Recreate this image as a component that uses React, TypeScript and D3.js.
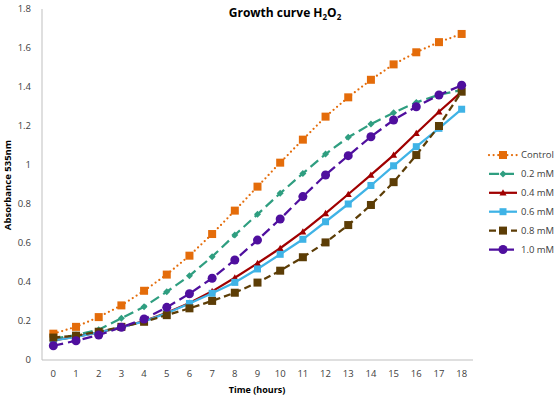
import React from "react";
import * as d3 from "d3";

const hours = [0, 1, 2, 3, 4, 5, 6, 7, 8, 9, 10, 11, 12, 13, 14, 15, 16, 17, 18];

const control = [0.135, 0.17, 0.22, 0.28, 0.355, 0.438, 0.535, 0.646, 0.766, 0.889, 1.012, 1.13, 1.248, 1.347, 1.437, 1.516, 1.578, 1.63, 1.672];
const mM02 = [0.11, 0.128, 0.155, 0.214, 0.273, 0.35, 0.432, 0.53, 0.641, 0.747, 0.855, 0.957, 1.056, 1.142, 1.21, 1.268, 1.321, 1.36, 1.385];
const mM04 = [0.1, 0.12, 0.142, 0.167, 0.2, 0.242, 0.292, 0.352, 0.422, 0.496, 0.573, 0.658, 0.752, 0.85, 0.949, 1.051, 1.163, 1.273, 1.376];
const mM06 = [0.1, 0.118, 0.142, 0.168, 0.198, 0.24, 0.29, 0.342, 0.398, 0.467, 0.542, 0.619, 0.709, 0.8, 0.895, 0.996, 1.094, 1.188, 1.286];
const mM08 = [0.115, 0.125, 0.145, 0.17, 0.196, 0.23, 0.265, 0.303, 0.345, 0.397, 0.458, 0.527, 0.603, 0.692, 0.795, 0.912, 1.051, 1.2, 1.376];
const mM10 = [0.073, 0.099, 0.128, 0.168, 0.21, 0.27, 0.34, 0.419, 0.513, 0.615, 0.723, 0.838, 0.949, 1.048, 1.145, 1.231, 1.299, 1.359, 1.409];

const yTicks = [0, 0.2, 0.4, 0.6, 0.8, 1, 1.2, 1.4, 1.6, 1.8];

type Series = {
  name: string;
  values: number[];
  color: string;
  dash: string;
  cap: "round" | "butt";
  marker: "square" | "diamond" | "triangle" | "circle";
  size: number;
};

const series: Series[] = [
  { name: "Control", values: control, color: "#e46c0a", dash: "0 4.6", cap: "round", marker: "square", size: 8 },
  { name: "0.2 mM", values: mM02, color: "#2f9e80", dash: "10 5", cap: "butt", marker: "diamond", size: 7 },
  { name: "0.4 mM", values: mM04, color: "#a00000", dash: "", cap: "butt", marker: "triangle", size: 7 },
  { name: "0.6 mM", values: mM06, color: "#3fb3e6", dash: "", cap: "butt", marker: "square", size: 7 },
  { name: "0.8 mM", values: mM08, color: "#5c3d06", dash: "7 4", cap: "butt", marker: "square", size: 8 },
  { name: "1.0 mM", values: mM10, color: "#4f0f9e", dash: "10 5", cap: "butt", marker: "circle", size: 9 },
];

const font = "'Open Sans', 'Noto Sans', sans-serif";

function Marker({ kind, x, y, size, color }: { kind: Series["marker"]; x: number; y: number; size: number; color: string }) {
  const h = size / 2;
  if (kind === "square") return <rect x={x - h} y={y - h} width={size} height={size} fill={color} />;
  if (kind === "circle") return <circle cx={x} cy={y} r={h} fill={color} />;
  if (kind === "diamond")
    return <path d={`M${x},${y - h}L${x + h},${y}L${x},${y + h}L${x - h},${y}Z`} fill={color} />;
  return <path d={`M${x},${y - h}L${x + h},${y + h * 0.8}L${x - h},${y + h * 0.8}Z`} fill={color} />;
}

export default function App() {
  const width = 557;
  const height = 400;
  const left = 42;
  const right = 473;
  const top = 9;
  const bottom = 360;

  const x = d3.scalePoint<number>().domain(hours).range([left, right]).padding(0.5);
  const y = d3.scaleLinear().domain([0, 1.8]).range([bottom, top]);

  const line = d3
    .line<number>()
    .x((_, i) => x(hours[i]) as number)
    .y((d) => y(d));

  const legendX = 489;
  const legendY = d3.scalePoint<string>().domain(series.map((s) => s.name)).range([155, 249.5]);

  return (
    <svg width={width} height={height} style={{ position: "absolute", left: 0, top: 0, background: "#fff" }} fontFamily={font}>
      {/* axes */}
      <line x1={left} x2={left} y1={top} y2={bottom} stroke="#bfbfbf" strokeWidth={1} />
      <line x1={left} x2={right} y1={bottom} y2={bottom} stroke="#bfbfbf" strokeWidth={1} />
      {yTicks.map((t) => (
        <text key={t} x={31} y={y(t)} dy="0.35em" textAnchor="end" fontSize={9.5} fill="#404040">
          {d3.format("~g")(t)}
        </text>
      ))}
      {hours.map((h) => (
        <text key={h} x={x(h)} y={377} textAnchor="middle" fontSize={9.5} fill="#404040">
          {h}
        </text>
      ))}
      <text x={257} y={393} textAnchor="middle" fontSize={9} fontWeight="bold" fill="#000">
        Time (hours)
      </text>
      <text transform="translate(11,185) rotate(-90)" textAnchor="middle" fontSize={9.5} fontWeight="bold" fill="#000">
        Absorbance 535nm
      </text>
      <text x={285} y={17} textAnchor="middle" fontSize={12} fontWeight="bold" fill="#000">
        Growth curve H<tspan fontSize={8} dy={3}>2</tspan>
        <tspan dy={-3}>O</tspan>
        <tspan fontSize={8} dy={3}>2</tspan>
      </text>

      {/* series */}
      {series.map((s) => (
        <g key={s.name}>
          <path
            d={line(s.values) as string}
            fill="none"
            stroke={s.color}
            strokeWidth={2.25}
            strokeDasharray={s.dash || undefined}
            strokeLinecap={s.cap}
          />
          {s.values.map((v, i) => (
            <Marker key={i} kind={s.marker} x={x(hours[i]) as number} y={y(v)} size={s.size} color={s.color} />
          ))}
        </g>
      ))}

      {/* legend */}
      {series.map((s) => {
        const ly = legendY(s.name) as number;
        return (
          <g key={s.name}>
            <line
              x1={legendX}
              x2={legendX + 28}
              y1={ly}
              y2={ly}
              stroke={s.color}
              strokeWidth={2.25}
              strokeDasharray={s.dash || undefined}
              strokeLinecap={s.cap}
            />
            <Marker kind={s.marker} x={legendX + 14} y={ly} size={s.size} color={s.color} />
            <text x={legendX + 32} y={ly} dy="0.35em" fontSize={9.5} fill="#404040">
              {s.name}
            </text>
          </g>
        );
      })}
    </svg>
  );
}
